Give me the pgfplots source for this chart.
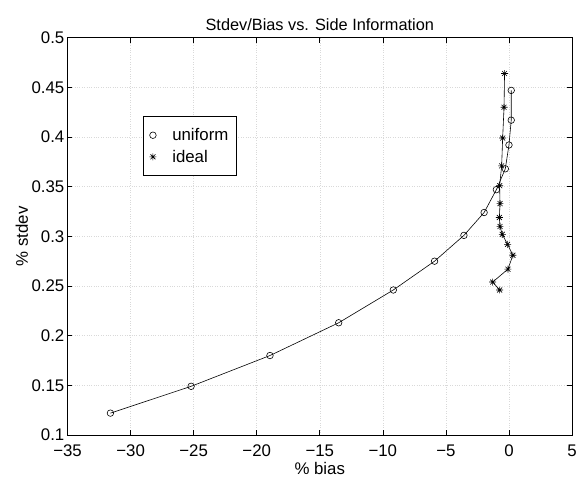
\documentclass[border=0pt]{standalone}
\usepackage{pgfplots}
\pgfplotsset{compat=1.18}
\usepackage{fontspec}
\setmainfont{Liberation Sans}
\pgfdeclareplotmark{mstar}{%
  \pgfpathmoveto{\pgfqpoint{-\pgfplotmarksize}{0pt}}\pgfpathlineto{\pgfqpoint{\pgfplotmarksize}{0pt}}%
  \pgfpathmoveto{\pgfqpoint{0pt}{-\pgfplotmarksize}}\pgfpathlineto{\pgfqpoint{0pt}{\pgfplotmarksize}}%
  \pgfpathmoveto{\pgfqpoint{-0.707\pgfplotmarksize}{-0.707\pgfplotmarksize}}\pgfpathlineto{\pgfqpoint{0.707\pgfplotmarksize}{0.707\pgfplotmarksize}}%
  \pgfpathmoveto{\pgfqpoint{-0.707\pgfplotmarksize}{0.707\pgfplotmarksize}}\pgfpathlineto{\pgfqpoint{0.707\pgfplotmarksize}{-0.707\pgfplotmarksize}}%
  \pgfusepathqstroke}
\begin{document}
\begin{tikzpicture}
\begin{axis}[scale only axis,width=508bp,height=400bp,
  xmin=-35,xmax=5,ymin=0.1,ymax=0.5,
  xtick={-35,-30,...,5},
  xticklabels={−35,−30,−25,−20,−15,−10,−5,0,5},
  ytick={0.1,0.15,0.2,0.25,0.3,0.35,0.4,0.45,0.5},
  yticklabels={0.1,0.15,0.2,0.25,0.3,0.35,0.4,0.45,0.5},
  tick align=inside,major tick length=5bp,
  tick style={black,line width=0.6bp},
  axis line style={black,line width=0.7bp},
  grid=major,grid style={black!15,dotted,line width=0.5bp},
  tick label style={font=\fontsize{17}{19}\selectfont},
  xticklabel style={anchor=north,inner ysep=0bp,yshift=-10bp},
  yticklabel style={inner ysep=0bp,inner xsep=2bp,xshift=-1bp},
  label style={font=\fontsize{17}{19}\selectfont},
  title style={font=\fontsize{16.5}{19}\selectfont,yshift=-2bp},
  title={Stdev/Bias vs. Side Information},
  xlabel={\% bias},ylabel={\% stdev},
  xlabel style={inner ysep=1bp,yshift=-4bp},ylabel style={yshift=-2bp},
  legend style={at={(0.15,0.8025)},anchor=north west,draw=black,line width=0.6bp,
    font=\fontsize{17}{19}\selectfont,inner xsep=6bp,inner ysep=10bp,row sep=4bp,
    /tikz/every odd column/.append style={column sep=14bp}},
  legend cell align=left,
]
\addplot[black,line width=0.6bp,forget plot] coordinates {
(-31.6,0.122) (-25.2,0.149) (-18.95,0.180) (-13.5,0.213) (-9.17,0.246) (-5.9,0.275)
(-3.57,0.301) (-1.97,0.324) (-1.0,0.347) (-0.29,0.368) (0.0,0.392) (0.18,0.417) (0.18,0.447)};
\addplot[black,line width=0.6bp,forget plot] coordinates {
(-0.35,0.464) (-0.39,0.430) (-0.5,0.399) (-0.58,0.371) (-0.74,0.351) (-0.71,0.333)
(-0.76,0.319) (-0.71,0.310) (-0.53,0.302) (-0.11,0.292) (0.31,0.281) (-0.08,0.267)
(-1.29,0.254) (-0.74,0.246)};
\addplot[only marks,mark=o,mark size=3.3bp,black,line width=0.6bp] coordinates {
(-31.6,0.122) (-25.2,0.149) (-18.95,0.180) (-13.5,0.213) (-9.17,0.246) (-5.9,0.275)
(-3.57,0.301) (-1.97,0.324) (-1.0,0.347) (-0.29,0.368) (0.0,0.392) (0.18,0.417) (0.18,0.447)};
\addlegendentry{uniform}
\addplot[only marks,mark=mstar,mark size=3.5bp,black,line width=0.6bp] coordinates {
(-0.35,0.464) (-0.39,0.430) (-0.5,0.399) (-0.58,0.371) (-0.74,0.351) (-0.71,0.333)
(-0.76,0.319) (-0.71,0.310) (-0.53,0.302) (-0.11,0.292) (0.31,0.281) (-0.08,0.267)
(-1.29,0.254) (-0.74,0.246)};
\addlegendentry{ideal}
\end{axis}
\path ([xshift=-68bp,yshift=-43bp]current axis.south west) rectangle ([xshift=4bp,yshift=38bp]current axis.north east);
\end{tikzpicture}
\end{document}
